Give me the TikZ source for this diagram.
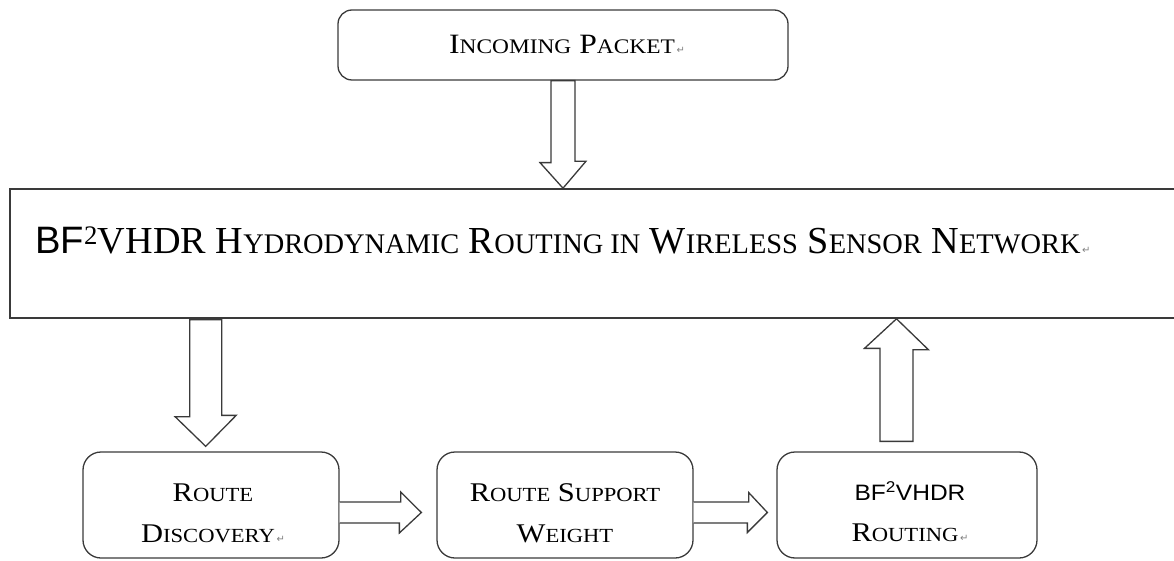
\documentclass[tikz,border=0pt]{standalone}
\usepackage{fontspec}
\setmainfont{Liberation Serif}
\newfontfamily\arialf{Liberation Sans}
\newfontfamily\wideserif[FakeStretch=1.13]{Liberation Serif}
\newfontfamily\widesans[FakeStretch=1.1]{Liberation Sans}
\newfontfamily\djv{DejaVu Sans}
\usetikzlibrary{calc}
\definecolor{edge}{HTML}{3A3A3A}
\newcommand\retmark{{\djv\fontsize{10}{10}\selectfont\color{gray}\,↵}}
% size classes: big caps / small caps
\newcommand\tA{\wideserif\fontsize{28}{34}\selectfont}
\newcommand\tB{\wideserif\fontsize{20.7}{26}\selectfont}
\newcommand\mA{\fontsize{38.2}{44}\selectfont}
\newcommand\mB{\fontsize{28.4}{44}\selectfont}
\newcommand\bA{\wideserif\fontsize{27}{41}\selectfont}
\newcommand\bB{\wideserif\fontsize{20}{41}\selectfont}
\begin{document}
\begin{tikzpicture}[x=1pt,y=-1pt,
  box/.style={draw=edge,line width=1.3pt,rounded corners=14pt,inner sep=0pt},
  bbox/.style={draw=edge,line width=1.3pt,rounded corners=18pt,inner sep=0pt,minimum height=106pt},
  mainbox/.style={draw=edge,line width=1.6pt,inner sep=0pt},
  txt/.style={inner sep=0pt,align=center,text=black},
  barrow/.style={draw=edge,line width=1.3pt,fill=white,line join=miter}]
\useasboundingbox (0,0) rectangle (1174,561);
% boxes
\node[box,minimum width=450pt,minimum height=70pt] (inc) at (563,45) {};
\node[mainbox,minimum width=1170pt,minimum height=129pt] (main) at (595,253.5) {};
\node[bbox,minimum width=256pt] (rd) at (211,505) {};
\node[bbox,minimum width=256pt] (rsw) at (565,505) {};
\node[bbox,minimum width=260pt] (bfr) at (907,505) {};
% texts
\node[txt,anchor=base,font=\tA] (incT) at (567,54) {I{\tB NCOMING} P{\tB ACKET}\retmark};
\node[txt,anchor=base west,font=\mA] (mainT) at (35,254) {{\arialf BF}\textsuperscript{2}VHDR H{\mB YDRODYNAMIC} R{\mB OUTING IN} W{\mB IRELESS} S{\mB ENSOR} N{\mB ETWORK}\retmark};
\node[txt,anchor=base,font=\bA] (rdT) at (213,542) {R{\bB OUTE}\\D{\bB ISCOVERY}\retmark};
\node[txt,anchor=base,font=\bA] (rswT) at (565,542) {R{\bB OUTE} S{\bB UPPORT}\\W{\bB EIGHT}};
\node[txt,anchor=base,font=\bA] (bfrT) at (910,541) {{\widesans\fontsize{22.3}{41}\selectfont BF\textsuperscript{2}VHDR}\\R{\bB OUTING}\retmark};
% block arrows
% incoming -> main (down)
\draw[barrow] ([xshift=-12pt]inc.south) -- ++(0,82) -- ++(-11,0) -- (inc.south |- main.north) -- ++(23,-27) -- ++(-11,0) -- ([xshift=12pt]inc.south) -- cycle;
% main -> route discovery (down)
\coordinate (d2) at ($(main.south west)+(196.5,0)$);
\draw[barrow] ([xshift=-16pt,yshift=-1pt]d2) -- ++(0,97) -- ++(-14.5,0) -- ($(d2 |- rd.north)+(0,-5)$) -- ++(30.5,-31) -- ++(-14.5,0) -- ([xshift=16pt,yshift=-1pt]d2) -- cycle;
% route discovery -> route support weight (right)
\coordinate (r1) at ($(rd.east)+(0,7.5)$);
\draw[barrow] ([yshift=10.5pt]r1) -- ++(61,0) -- ++(0,-10) -- ($(rsw.west |- r1)+(-15,0)$) -- ++(-22,20.5) -- ++(0,-10) -- ([yshift=-10.5pt]r1);
% route support weight -> routing (right)
\coordinate (r2) at ($(rsw.east)+(0,7.5)$);
\draw[barrow] ([yshift=10.5pt]r2) -- ++(55,0) -- ++(0,-9.5) -- ($(bfr.west |- r2)+(-9,0)$) -- ++(-20,20) -- ++(0,-9.5) -- ([yshift=-10.5pt]r2);
% routing -> main (up)
\coordinate (u1) at ($(bfr.north)+(-10.5,-10)$);
\draw[barrow] ([xshift=-16.5pt]u1) -- ++(0,-93) -- ++(-15.5,0) -- (u1 |- main.south) -- ++(32,31) -- ++(-15.5,0) -- ([xshift=16.5pt]u1) -- cycle;
\end{tikzpicture}
\end{document}
